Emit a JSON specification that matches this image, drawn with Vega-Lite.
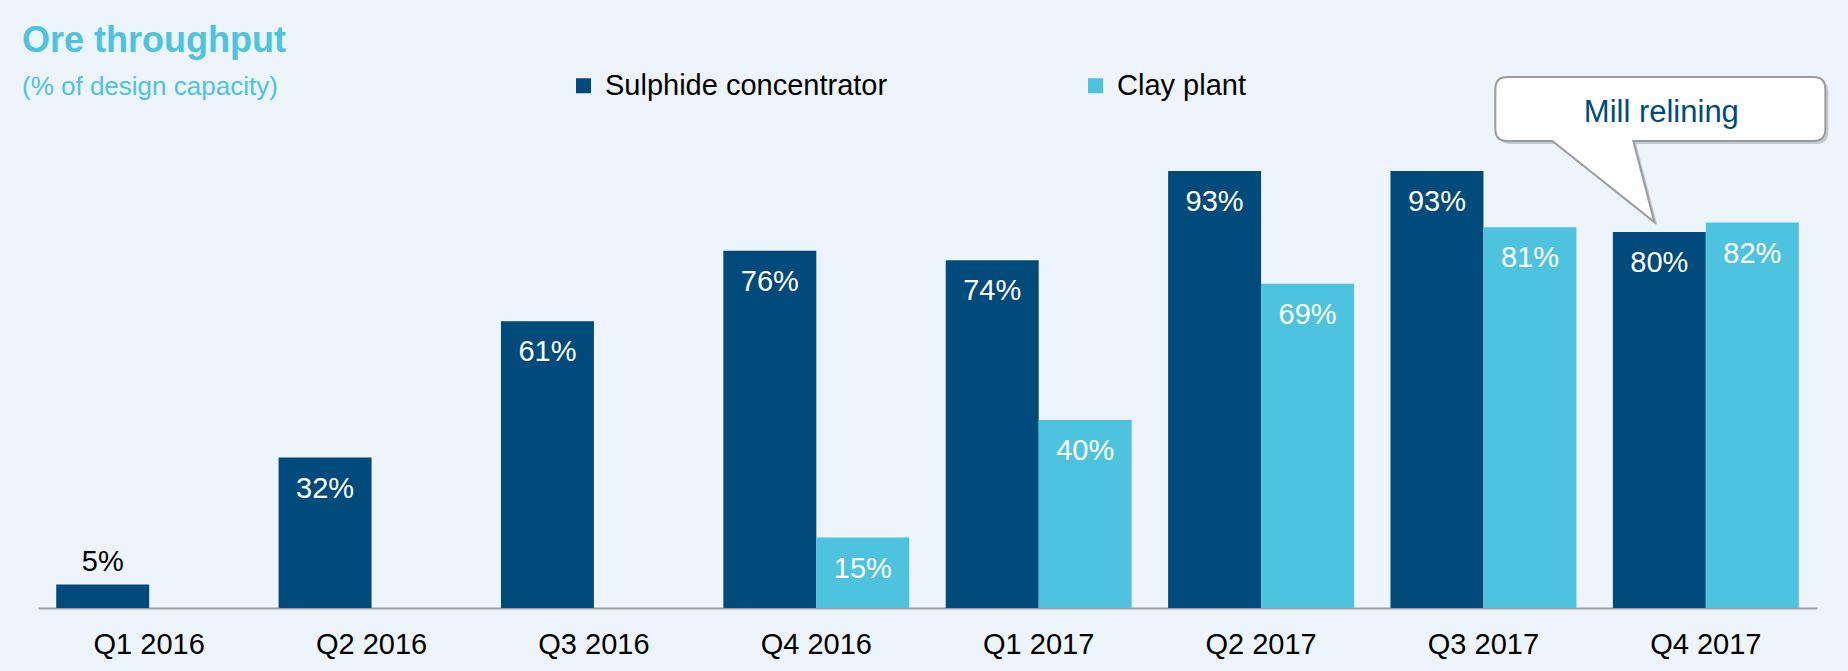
{
  "$schema": "https://vega.github.io/schema/vega-lite/v6.json",
  "width": 1779,
  "height": 470,
  "autosize": {"type": "none"},
  "padding": {"left": 38, "top": 138, "right": 31, "bottom": 63},
  "background": "#EDF4FC",
  "config": {"view": {"stroke": null}, "font": "Liberation Sans"},
  "title": {
    "text": "Ore throughput",
    "subtitle": "(% of design capacity)",
    "anchor": "start",
    "frame": "group",
    "orient": "top",
    "dx": -16,
    "dy": 30,
    "offset": 0,
    "font": "Liberation Sans",
    "fontSize": 36,
    "fontWeight": "bold",
    "color": "#4EC3E0",
    "subtitleFont": "Liberation Sans",
    "subtitleFontSize": 26,
    "subtitleColor": "#4EC3E0",
    "subtitlePadding": 14
  },
  "datasets": {
    "bars": [
      {"quarter": "Q1 2016", "series": "Sulphide concentrator", "value": 0.05},
      {"quarter": "Q2 2016", "series": "Sulphide concentrator", "value": 0.32},
      {"quarter": "Q3 2016", "series": "Sulphide concentrator", "value": 0.61},
      {"quarter": "Q4 2016", "series": "Sulphide concentrator", "value": 0.76},
      {"quarter": "Q1 2017", "series": "Sulphide concentrator", "value": 0.74},
      {"quarter": "Q2 2017", "series": "Sulphide concentrator", "value": 0.93},
      {"quarter": "Q3 2017", "series": "Sulphide concentrator", "value": 0.93},
      {"quarter": "Q4 2017", "series": "Sulphide concentrator", "value": 0.80},
      {"quarter": "Q4 2016", "series": "Clay plant", "value": 0.15},
      {"quarter": "Q1 2017", "series": "Clay plant", "value": 0.40},
      {"quarter": "Q2 2017", "series": "Clay plant", "value": 0.69},
      {"quarter": "Q3 2017", "series": "Clay plant", "value": 0.81},
      {"quarter": "Q4 2017", "series": "Clay plant", "value": 0.82}
    ],
    "note": [
      {"quarter": "Q4 2017", "series": "Sulphide concentrator", "value": 0.80, "note": "Mill relining"}
    ]
  },
  "encoding": {
    "x": {
      "field": "quarter",
      "type": "nominal",
      "sort": ["Q1 2016", "Q2 2016", "Q3 2016", "Q4 2016", "Q1 2017", "Q2 2017", "Q3 2017", "Q4 2017"],
      "scale": {
        "domain": ["Q1 2016", "Q2 2016", "Q3 2016", "Q4 2016", "Q1 2017", "Q2 2017", "Q3 2017", "Q4 2017"],
        "paddingInner": 0,
        "paddingOuter": 0
      },
      "axis": {
        "title": null,
        "labelAngle": 0,
        "labelFont": "Liberation Sans",
        "labelFontSize": 29,
        "labelColor": "#000000",
        "ticks": false,
        "tickSize": 0,
        "labelPadding": 22,
        "domainColor": "#A3A3A3",
        "domainWidth": 2,
        "grid": false
      }
    },
    "xOffset": {
      "field": "series",
      "type": "nominal",
      "sort": ["Sulphide concentrator", "Clay plant"],
      "scale": {
        "domain": ["Sulphide concentrator", "Clay plant"],
        "paddingInner": 0,
        "paddingOuter": 0.196
      }
    },
    "y": {
      "field": "value",
      "type": "quantitative",
      "scale": {"domain": [0, 1], "nice": false, "zero": true},
      "axis": null
    }
  },
  "layer": [
    {
      "data": {"name": "bars"},
      "mark": {"type": "bar"},
      "encoding": {
        "color": {
          "field": "series",
          "type": "nominal",
          "scale": {
            "domain": ["Sulphide concentrator", "Clay plant"],
            "range": ["#004A7C", "#4EC3E0"]
          },
          "legend": {
            "title": null,
            "orient": "none",
            "direction": "horizontal",
            "legendX": 531,
            "legendY": -67,
            "padding": 0,
            "symbolType": "square",
            "symbolSize": 225,
            "symbolStrokeWidth": 0,
            "symbolOpacity": 1,
            "labelFont": "Liberation Sans",
            "labelFontSize": 29,
            "labelColor": "#000000",
            "labelOffset": 7,
            "labelLimit": 500,
            "columnPadding": 193
          }
        }
      }
    },
    {
      "data": {"name": "bars"},
      "transform": [{"filter": "datum.value >= 0.1"}],
      "mark": {
        "type": "text",
        "color": "#FFFFFF",
        "font": "Liberation Sans",
        "fontSize": 29,
        "align": "center",
        "baseline": "alphabetic",
        "dy": 40
      },
      "encoding": {"text": {"field": "value", "type": "quantitative", "format": ".0%"}}
    },
    {
      "data": {"name": "bars"},
      "transform": [{"filter": "datum.value < 0.1"}],
      "mark": {
        "type": "text",
        "color": "#000000",
        "font": "Liberation Sans",
        "fontSize": 29,
        "align": "center",
        "baseline": "alphabetic",
        "dy": -14
      },
      "encoding": {"text": {"field": "value", "type": "quantitative", "format": ".0%"}}
    },
    {
      "data": {"name": "note"},
      "mark": {
        "type": "point",
        "shape": "M-149,-152L157,-152Q169,-152 169,-140L169,-100Q169,-88 157,-88L-23,-88L-2,-7L-104,-88L-149,-88Q-161,-88 -161,-100L-161,-140Q-161,-152 -149,-152Z",
        "size": 4,
        "filled": true,
        "fill": "#A9AEB4",
        "fillOpacity": 0.6,
        "strokeWidth": 0,
        "opacity": 1
      }
    },
    {
      "data": {"name": "note"},
      "mark": {
        "type": "point",
        "shape": "M-152,-155L154,-155Q166,-155 166,-143L166,-103Q166,-91 154,-91L-26,-91L-5,-10L-107,-91L-152,-91Q-164,-91 -164,-103L-164,-143Q-164,-155 -152,-155Z",
        "size": 4,
        "filled": true,
        "fill": "#FFFFFF",
        "stroke": "#9C9C9C",
        "strokeWidth": 2,
        "opacity": 1
      }
    },
    {
      "data": {"name": "note"},
      "mark": {
        "type": "text",
        "color": "#004A7C",
        "font": "Liberation Sans",
        "fontSize": 31,
        "align": "center",
        "baseline": "alphabetic",
        "dx": 2,
        "dy": -110
      },
      "encoding": {"text": {"field": "note"}}
    }
  ]
}
